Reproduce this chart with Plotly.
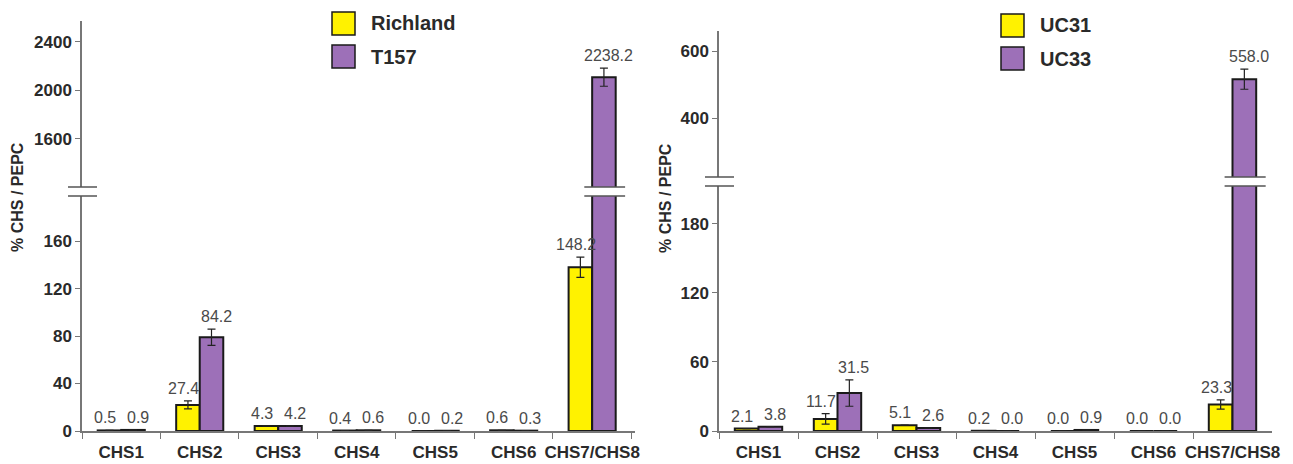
import plotly.graph_objects as go

# ---------------- data ----------------
categories = ["CHS1", "CHS2", "CHS3", "CHS4", "CHS5", "CHS6", "CHS7/CHS8"]

# left panel
richland_vals = [0.5, 22, 4.3, 0.4, 0.0, 0.6, 138]
richland_err = [0, 3.3, 0, 0, 0, 0, 8.5]
richland_labels = ["0.5", "27.4", "4.3", "0.4", "0.0", "0.6", "148.2"]
t157_vals = [0.9, 79, 4.2, 0.6, 0.2, 0.3, 2110]
t157_err = [0, 6.8, 0, 0, 0, 0, 75]
t157_labels = ["0.9", "84.2", "4.2", "0.6", "0.2", "0.3", "2238.2"]

# right panel
uc31_vals = [2.1, 10.5, 5.1, 0.2, 0.0, 0.0, 23]
uc31_err = [0, 4.6, 0, 0, 0, 0, 4]
uc31_labels = ["2.1", "11.7", "5.1", "0.2", "0.0", "0.0", "23.3"]
uc33_vals = [3.8, 33, 2.6, 0.0, 0.9, 0.0, 516]
uc33_err = [0, 11.5, 0, 0, 0, 0, 30]
uc33_labels = ["3.8", "31.5", "2.6", "0.0", "0.9", "0.0", "558.0"]

left_ticks_low = [0, 40, 80, 120, 160]
left_ticks_high = [1600, 2000, 2400]
right_ticks_low = [0, 60, 120, 180]
right_ticks_high = [400, 600]

# ---------------- styling / geometry ----------------
W, H = 1293, 464
YELLOW = "#FFF200"
PURPLE = "#9D70B8"
OUTLINE = "#1a1a1a"
AXIS = "#777777"
FAM = "Liberation Sans, Arial"
TICKFONT = dict(family=FAM, size=17, color="#2a2a2a", weight="bold")
XTICKFONT = dict(family=FAM, size=17, color="#2a2a2a", weight="bold")
LABELFONT = dict(family=FAM, size=16, color="#4a4a4a")
BARGAP = 0.4

panels = [
    dict(xname="x", xdom=(82, 635), low="y", high="y2",
         lowdom=(431, 196), highdom=(187, 21),
         lowrange=[0, 198], highrange=[1204, 2573],
         lowticks=left_ticks_low, highticks=left_ticks_high,
         series=[("Richland", richland_vals, richland_err, richland_labels, YELLOW),
                 ("T157", t157_vals, t157_err, t157_labels, PURPLE)],
         leg_sq_x=332, leg_sq_y=12, title_x=18, title_y=197),
    dict(xname="x2", xdom=(719, 1272), low="y3", high="y4",
         lowdom=(431, 186), highdom=(177, 31),
         lowrange=[0, 213], highrange=[224, 660],
         lowticks=right_ticks_low, highticks=right_ticks_high,
         series=[("UC31", uc31_vals, uc31_err, uc31_labels, YELLOW),
                 ("UC33", uc33_vals, uc33_err, uc33_labels, PURPLE)],
         leg_sq_x=1001, leg_sq_y=14, title_x=665, title_y=198),
]

fig = go.Figure()
layout = dict(
    width=W, height=H, margin=dict(l=0, r=0, t=0, b=0, autoexpand=False),
    paper_bgcolor="white", plot_bgcolor="white",
    barmode="group", bargap=BARGAP, bargroupgap=0,
    showlegend=False,
)
annotations = []
shapes = []


def ax_name(a):
    return "xaxis" + a[1:] if a.startswith("x") else "yaxis" + a[1:]


for p in panels:
    xd = [p["xdom"][0] / W, p["xdom"][1] / W]
    lowd = [1 - p["lowdom"][0] / H, 1 - p["lowdom"][1] / H]
    highd = [1 - p["highdom"][0] / H, 1 - p["highdom"][1] / H]
    layout[ax_name(p["xname"])] = dict(
        domain=xd, anchor=p["low"], type="category",
        categoryorder="array", categoryarray=categories,
        showline=True, linecolor=AXIS, linewidth=1.5,
        ticks="outside", ticklen=6, tickcolor=AXIS, tickwidth=1.2,
        tickson="boundaries", tickfont=XTICKFONT, tickangle=0, ticklabelstandoff=5,
        showgrid=False, zeroline=False, fixedrange=True, automargin=False,
    )
    common_y = dict(anchor=p["xname"], showline=True, linecolor=AXIS, linewidth=1.5,
                    ticks="outside", ticklen=5, tickcolor=AXIS, tickwidth=1.2,
                    tickfont=TICKFONT, showgrid=False, zeroline=False, fixedrange=True,
                    tickmode="array", automargin=False)
    layout[ax_name(p["low"])] = dict(domain=lowd, range=p["lowrange"],
                                     tickvals=p["lowticks"], **common_y)
    layout[ax_name(p["high"])] = dict(domain=highd, range=p["highrange"],
                                      tickvals=p["highticks"], **common_y)

    n_cat = len(categories)
    cat_px = (p["xdom"][1] - p["xdom"][0]) / n_cat
    bar_px = cat_px * (1 - BARGAP) / 2
    label_step = bar_px + 9  # value labels spread a little wider than the bars
    for si, (name, vals, errs, labels, color) in enumerate(p["series"]):
        for yax in (p["low"], p["high"]):
            fig.add_trace(go.Bar(
                x=categories, y=vals, name=name,
                xaxis=p["xname"], yaxis=yax,
                marker=dict(color=color, line=dict(color=OUTLINE, width=2)),
                error_y=dict(type="data", array=errs, visible=True,
                             color="#222222", thickness=1.2, width=4),
                showlegend=False, hoverinfo="skip",
            ))
        shift = (si - 0.5) * label_step
        for c, v, e, lab in zip(categories, vals, errs, labels):
            top = v + e
            yref = p["low"] if top <= p["lowrange"][1] else p["high"]
            annotations.append(dict(
                x=c, y=top, xref=p["xname"], yref=yref, text=lab,
                showarrow=False, xanchor="center", yanchor="bottom",
                xshift=shift, yshift=2, font=LABELFONT,
            ))

        # custom legend entry (square swatch + bold label)
        sq = 23
        gap = 33
        x0 = p["leg_sq_x"]
        y0 = p["leg_sq_y"] + si * gap
        shapes.append(dict(type="rect", xref="paper", yref="paper",
                           x0=x0 / W, x1=(x0 + sq) / W,
                           y0=1 - (y0 + sq) / H, y1=1 - y0 / H,
                           fillcolor=color, line=dict(color=OUTLINE, width=1.5)))
        annotations.append(dict(
            x=(x0 + sq + 14) / W, y=1 - (y0 + sq / 2) / H, xref="paper", yref="paper",
            text=name, showarrow=False, xanchor="left", yanchor="middle",
            font=dict(family=FAM, size=20, color="#2a2a2a", weight="bold"),
        ))

    # y-axis title
    annotations.append(dict(
        x=p["title_x"] / W, y=1 - p["title_y"] / H, xref="paper", yref="paper",
        text="% CHS / PEPC", textangle=-90, showarrow=False,
        font=dict(family=FAM, size=16, color="#2a2a2a", weight="bold"),
        xanchor="center", yanchor="middle",
    ))

    # axis break marks
    ax_x = p["xdom"][0]
    for yy in (lowd[1], highd[0]):
        shapes.append(dict(type="line", xref="paper", yref="paper",
                           x0=(ax_x - 14) / W, x1=(ax_x + 15) / W, y0=yy, y1=yy,
                           line=dict(color="#555555", width=1.5)))
    # break marks across the tallest bar
    tall_vals = p["series"][1][1]
    idx = tall_vals.index(max(tall_vals))
    for yy in (lowd[1], highd[0]):
        shapes.append(dict(type="line", xref=p["xname"], yref="paper",
                           x0=idx - 0.1, x1=idx + 0.42, y0=yy, y1=yy,
                           line=dict(color="#555555", width=1.5)))

layout["annotations"] = annotations
layout["shapes"] = shapes
fig.update_layout(**layout)
fig.write_html("out.html")
